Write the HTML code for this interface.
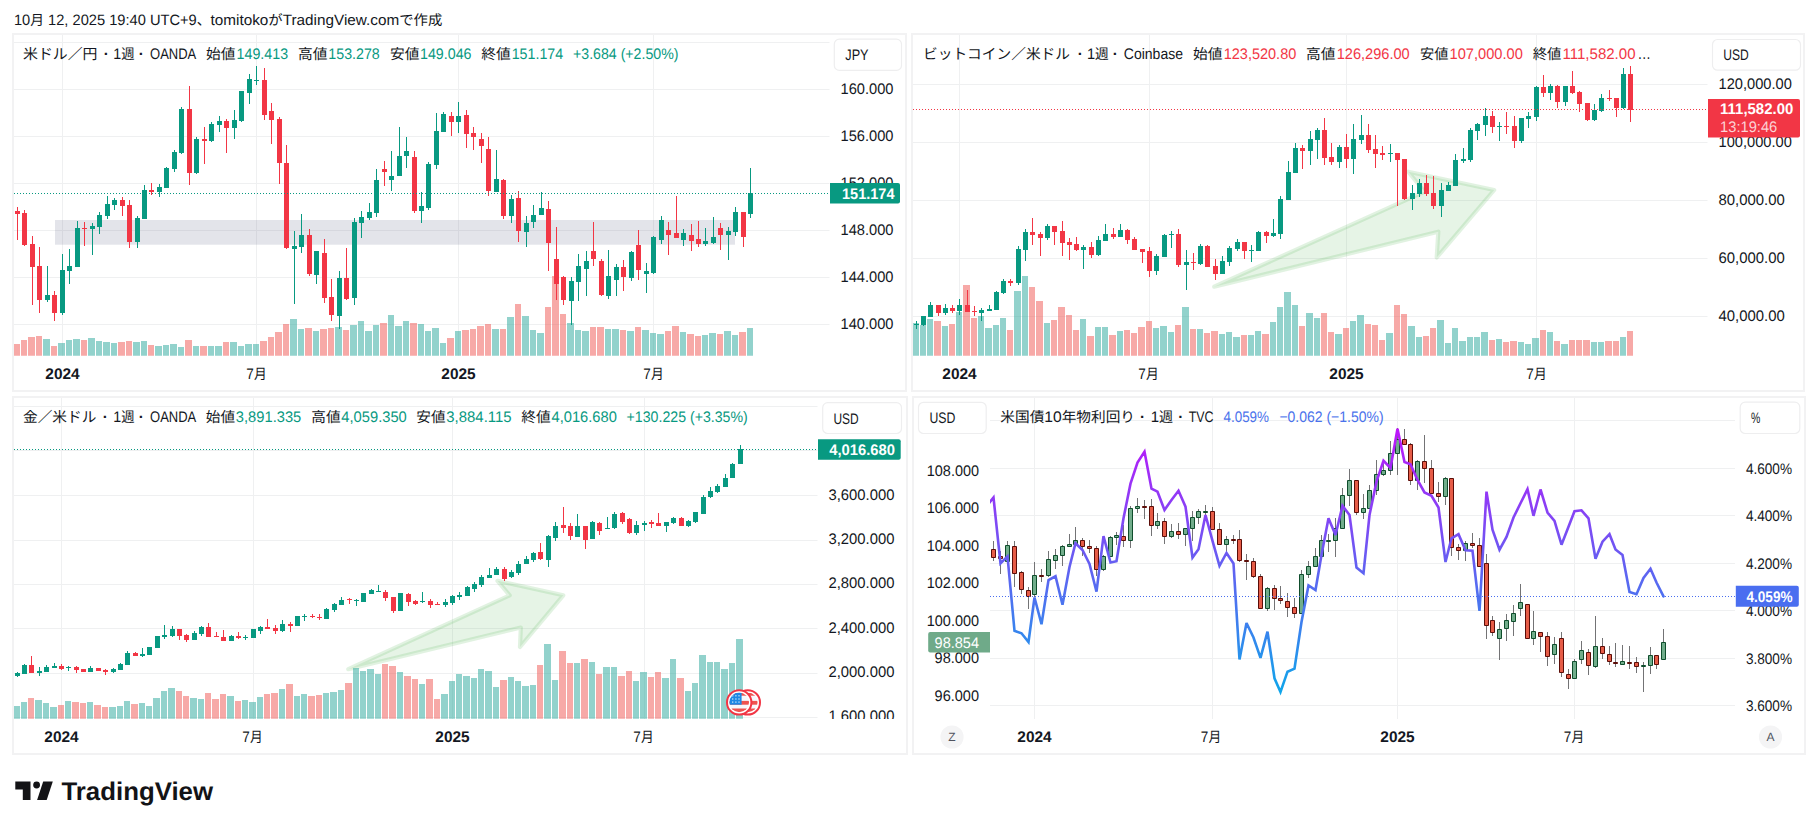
<!DOCTYPE html>
<html lang="ja"><head><meta charset="utf-8"><title>TradingView chart snapshot</title>
<style>html,body{margin:0;padding:0;background:#fff}body{width:1818px;height:829px;overflow:hidden}svg{display:block}text{font-family:"Liberation Sans", "Noto Sans CJK JP", sans-serif;white-space:pre;text-rendering:geometricPrecision}</style>
</head><body>
<svg width="1818" height="829" viewBox="0 0 1818 829">
<defs>
<linearGradient id="lg" gradientUnits="userSpaceOnUse" x1="0" y1="428" x2="0" y2="692"><stop offset="0" stop-color="#be14fa"/><stop offset="1" stop-color="#10a5ea"/></linearGradient>
<clipPath id="c1"><rect x="14" y="35" width="815.5" height="321"/></clipPath>
<clipPath id="c2"><rect x="913" y="35" width="794.5" height="321"/></clipPath>
<clipPath id="c3"><rect x="14" y="398" width="803.5" height="321"/></clipPath>
<clipPath id="c4"><rect x="990" y="398" width="745" height="321"/></clipPath>
<clipPath id="c3a"><rect x="817.5" y="398" width="88" height="321"/></clipPath>
<clipPath id="cf"><circle cx="739.2" cy="702.4" r="9.8"/></clipPath>
<clipPath id="cf2"><circle cx="747.8" cy="702.4" r="9.8"/></clipPath>
</defs>
<rect width="1818" height="829" fill="#fff"/>
<text x="13.9" y="25.3" font-size="15" fill="#131722" textLength="196.6" lengthAdjust="spacingAndGlyphs">10<tspan font-size="14.1">月</tspan> 12, 2025 19:40 UTC+9<tspan font-size="14.1">、</tspan></text>
<text x="210.5" y="25.3" font-size="15" fill="#131722" textLength="231.8" lengthAdjust="spacingAndGlyphs">tomitoko<tspan font-size="14.1">が</tspan>TradingView.com<tspan font-size="14.1">で作成</tspan></text>
<rect x="13" y="34" width="893" height="357" fill="#fff" stroke="#f2f2f3" stroke-width="2"/>
<path d="M14 42.5H829.5M14 89.5H829.5M14 136.5H829.5M14 183.5H829.5M14 230.5H829.5M14 277.5H829.5M14 324.5H829.5" stroke="#eff0f1" stroke-width="1" fill="none"/>
<path d="M62.5 35V356M256.5 35V356M458.5 35V356M653.5 35V356" stroke="#eff0f1" stroke-width="1" fill="none"/>
<g clip-path="url(#c1)">
<rect x="55" y="220" width="680" height="24.7" fill="rgb(100,105,140)" fill-opacity="0.18"/>
<path d="M43 339H50V355.8H43ZM58 343H65V355.8H58ZM66 340H72V355.8H66ZM73 339H80V355.8H73ZM88 338H95V355.8H88ZM96 341H102V355.8H96ZM103 342H110V355.8H103ZM111 343H117V355.8H111ZM133 342H140V355.8H133ZM141 341H147V355.8H141ZM155 346H162V355.8H155ZM163 345H169V355.8H163ZM170 344H177V355.8H170ZM178 347H184V355.8H178ZM193 346H199V355.8H193ZM208 346H214V355.8H208ZM215 346H222V355.8H215ZM230 342H237V355.8H230ZM238 346H244V355.8H238ZM245 344H252V355.8H245ZM253 344H259V355.8H253ZM290 319H297V355.8H290ZM298 329H304V355.8H298ZM313 331H319V355.8H313ZM335 327H342V355.8H335ZM350 325H357V355.8H350ZM358 321H364V355.8H358ZM365 331H372V355.8H365ZM373 325H379V355.8H373ZM388 315H394V355.8H388ZM395 326H402V355.8H395ZM403 321H409V355.8H403ZM418 324H424V355.8H418ZM425 331H431V355.8H425ZM432 328H439V355.8H432ZM440 343H446V355.8H440ZM455 331H461V355.8H455ZM492 329H499V355.8H492ZM507 317H514V355.8H507ZM522 316H529V355.8H522ZM530 330H536V355.8H530ZM537 333H544V355.8H537ZM567 323H574V355.8H567ZM575 330H581V355.8H575ZM582 331H589V355.8H582ZM605 329H611V355.8H605ZM612 329H619V355.8H612ZM627 331H634V355.8H627ZM642 330H649V355.8H642ZM650 333H656V355.8H650ZM657 334H664V355.8H657ZM680 332H686V355.8H680ZM702 335H708V355.8H702ZM709 333H716V355.8H709ZM724 331H731V355.8H724ZM732 335H738V355.8H732ZM747 328H753V355.8H747Z" fill="#26a69a" fill-opacity="0.5"/>
<path d="M13 344H20V355.8H13ZM21 340H27V355.8H21ZM28 337H35V355.8H28ZM36 336H42V355.8H36ZM51 346H57V355.8H51ZM81 340H87V355.8H81ZM118 342H125V355.8H118ZM126 341H132V355.8H126ZM148 345H154V355.8H148ZM185 340H192V355.8H185ZM200 346H207V355.8H200ZM223 342H229V355.8H223ZM260 341H267V355.8H260ZM268 337H274V355.8H268ZM275 332H282V355.8H275ZM283 324H289V355.8H283ZM305 328H312V355.8H305ZM320 329H327V355.8H320ZM328 328H334V355.8H328ZM343 330H349V355.8H343ZM380 323H387V355.8H380ZM410 323H417V355.8H410ZM447 338H454V355.8H447ZM462 330H469V355.8H462ZM470 329H476V355.8H470ZM477 326H484V355.8H477ZM485 324H491V355.8H485ZM500 329H506V355.8H500ZM515 304H521V355.8H515ZM545 307H551V355.8H545ZM552 276H559V355.8H552ZM560 314H566V355.8H560ZM590 327H596V355.8H590ZM597 327H604V355.8H597ZM620 330H626V355.8H620ZM635 327H641V355.8H635ZM665 331H671V355.8H665ZM672 326H679V355.8H672ZM687 334H694V355.8H687ZM695 336H701V355.8H695ZM717 334H723V355.8H717ZM739 332H746V355.8H739Z" fill="#ef5350" fill-opacity="0.5"/>
<path d="M47.5 266.0V302.0M62.5 254.0V315.0M69.5 249.0V284.0M77.5 221.0V267.0M92.5 223.0V255.0M99.5 212.0V234.0M107.5 196.0V219.0M114.5 198.0V210.0M137.5 216.0V248.0M144.5 185.0V219.0M159.5 184.0V197.0M166.5 167.0V188.0M174.5 150.0V172.0M181.5 107.0V154.0M196.5 137.0V174.0M211.5 122.0V142.0M219.5 116.0V132.0M234.5 110.0V139.0M241.5 91.0V122.0M249.5 74.0V104.0M256.5 66.0V85.0M294.5 231.0V304.0M301.5 214.0V253.0M316.5 251.0V284.0M339.5 271.0V329.0M354.5 218.0V305.0M361.5 211.0V238.0M369.5 203.0V220.0M376.5 169.0V217.0M391.5 151.0V191.0M399.5 127.0V176.0M406.5 137.0V168.0M421.5 192.0V223.0M428.5 162.0V210.0M436.5 113.0V169.0M443.5 112.0V132.0M458.5 102.0V133.0M496.5 150.0V192.0M511.5 195.0V223.0M526.5 216.0V247.0M533.5 205.0V228.0M541.5 192.0V215.0M571.5 277.0V325.0M578.5 254.0V301.0M586.5 251.0V296.0M608.5 250.0V299.0M616.5 264.0V296.0M631.5 251.0V281.0M646.5 263.0V293.0M653.5 236.0V274.0M661.5 216.0V244.0M683.5 229.0V246.0M705.5 228.0V246.0M713.5 217.0V244.0M728.5 227.0V260.0M735.5 207.0V236.0M750.5 168.0V218.0" stroke="#089981" stroke-width="1" fill="none"/>
<path d="M45.0 295.0h5V300.0h-5ZM60.0 270.0h5V313.0h-5ZM67.0 266.0h5V271.0h-5ZM75.0 228.0h5V267.0h-5ZM90.0 226.0h5V229.0h-5ZM97.0 215.0h5V227.0h-5ZM105.0 204.0h5V216.0h-5ZM112.0 200.0h5V205.0h-5ZM135.0 218.0h5V242.0h-5ZM142.0 190.0h5V219.0h-5ZM157.0 187.0h5V192.0h-5ZM164.0 168.0h5V188.0h-5ZM172.0 152.0h5V169.0h-5ZM179.0 109.0h5V153.0h-5ZM194.0 139.0h5V173.0h-5ZM209.0 124.0h5V141.0h-5ZM217.0 121.0h5V125.0h-5ZM232.0 120.0h5V128.0h-5ZM239.0 91.0h5V121.0h-5ZM247.0 79.0h5V93.0h-5ZM254.0 80.0h5V81.0h-5ZM292.0 246.0h5V249.0h-5ZM299.0 235.0h5V247.0h-5ZM314.0 251.0h5V275.0h-5ZM337.0 278.0h5V316.0h-5ZM352.0 222.0h5V298.0h-5ZM359.0 217.0h5V223.0h-5ZM367.0 212.0h5V218.0h-5ZM374.0 180.0h5V213.0h-5ZM389.0 176.0h5V180.0h-5ZM397.0 156.0h5V176.0h-5ZM404.0 151.0h5V156.0h-5ZM419.0 206.0h5V211.0h-5ZM426.0 164.0h5V208.0h-5ZM434.0 131.0h5V165.0h-5ZM441.0 114.0h5V132.0h-5ZM456.0 116.0h5V122.0h-5ZM494.0 179.0h5V192.0h-5ZM509.0 199.0h5V216.0h-5ZM524.0 223.0h5V232.0h-5ZM531.0 215.0h5V222.0h-5ZM539.0 208.0h5V215.0h-5ZM569.0 281.0h5V301.0h-5ZM576.0 266.0h5V282.0h-5ZM584.0 261.0h5V269.0h-5ZM606.0 276.0h5V296.0h-5ZM614.0 267.0h5V280.0h-5ZM629.0 252.0h5V278.0h-5ZM644.0 271.0h5V274.0h-5ZM651.0 237.0h5V273.0h-5ZM659.0 220.0h5V240.0h-5ZM681.0 233.0h5V240.0h-5ZM703.0 241.0h5V244.0h-5ZM711.0 237.0h5V243.0h-5ZM726.0 231.0h5V235.0h-5ZM733.0 212.0h5V232.0h-5ZM748.0 193.0h5V214.0h-5Z" fill="#089981"/>
<path d="M17.5 207.0V240.0M24.5 210.0V246.0M32.5 236.0V305.0M39.5 247.0V313.0M54.5 291.0V321.0M84.5 222.0V246.0M122.5 197.0V216.0M129.5 200.0V248.0M151.5 183.0V195.0M189.5 86.0V185.0M204.5 127.0V164.0M226.5 119.0V153.0M264.5 68.0V120.0M271.5 103.0V144.0M279.5 117.0V184.0M286.5 145.0V249.0M309.5 229.0V276.0M324.5 239.0V303.0M331.5 279.0V321.0M346.5 248.0V300.0M384.5 161.0V186.0M414.5 151.0V213.0M451.5 112.0V136.0M466.5 110.0V148.0M473.5 127.0V150.0M481.5 133.0V163.0M488.5 137.0V196.0M503.5 179.0V219.0M518.5 191.0V242.0M548.5 201.0V271.0M556.5 227.0V300.0M563.5 276.0V305.0M593.5 222.0V266.0M601.5 259.0V296.0M623.5 260.0V291.0M638.5 230.0V280.0M668.5 222.0V255.0M676.5 196.0V238.0M691.5 224.0V251.0M698.5 221.0V247.0M720.5 223.0V250.0M743.5 212.0V247.0" stroke="#f23645" stroke-width="1" fill="none"/>
<path d="M15.0 211.0h5V214.0h-5ZM22.0 213.0h5V245.0h-5ZM30.0 244.0h5V267.0h-5ZM37.0 266.0h5V300.0h-5ZM52.0 295.0h5V313.0h-5ZM82.0 228.0h5V229.0h-5ZM120.0 200.0h5V206.0h-5ZM127.0 205.0h5V242.0h-5ZM149.0 190.0h5V192.0h-5ZM187.0 109.0h5V173.0h-5ZM202.0 139.0h5V141.0h-5ZM224.0 121.0h5V128.0h-5ZM262.0 80.0h5V115.0h-5ZM269.0 111.0h5V120.0h-5ZM277.0 119.0h5V163.0h-5ZM284.0 163.0h5V248.0h-5ZM307.0 235.0h5V274.0h-5ZM322.0 253.0h5V298.0h-5ZM329.0 297.0h5V315.0h-5ZM344.0 278.0h5V299.0h-5ZM382.0 169.0h5V172.0h-5ZM412.0 157.0h5V211.0h-5ZM449.0 116.0h5V122.0h-5ZM464.0 115.0h5V134.0h-5ZM471.0 133.0h5V137.0h-5ZM479.0 139.0h5V146.0h-5ZM486.0 149.0h5V191.0h-5ZM501.0 180.0h5V216.0h-5ZM516.0 198.0h5V231.0h-5ZM546.0 209.0h5V243.0h-5ZM554.0 259.0h5V284.0h-5ZM561.0 277.0h5V300.0h-5ZM591.0 251.0h5V259.0h-5ZM599.0 261.0h5V295.0h-5ZM621.0 267.0h5V277.0h-5ZM636.0 245.0h5V270.0h-5ZM666.0 230.0h5V235.0h-5ZM674.0 233.0h5V238.0h-5ZM689.0 235.0h5V241.0h-5ZM696.0 239.0h5V244.0h-5ZM718.0 228.0h5V235.0h-5ZM741.0 212.0h5V237.0h-5Z" fill="#f23645"/>
</g>
<path d="M14 193.5H829.5" stroke="#089981" stroke-width="1" stroke-dasharray="1 2" fill="none"/>
<text x="23" y="59.1" font-size="14.4" fill="#131722" textLength="74.5" lengthAdjust="spacingAndGlyphs">米ドル／円</text>
<text x="103.7" y="59.1" font-size="15.3" fill="#131722" font-weight="bold">·</text>
<text x="113.3" y="59.1" font-size="15.3" fill="#131722" textLength="21.3" lengthAdjust="spacingAndGlyphs">1<tspan font-size="14.4">週</tspan></text>
<text x="138.7" y="59.1" font-size="15.3" fill="#131722" font-weight="bold">·</text>
<text x="150" y="59.1" font-size="15.3" fill="#131722" textLength="46.3" lengthAdjust="spacingAndGlyphs">OANDA</text>
<text x="206" y="59.1" font-size="14.4" fill="#131722" textLength="29.5" lengthAdjust="spacingAndGlyphs">始値</text>
<text x="236.6" y="59.1" font-size="15.3" fill="#089981" textLength="51.5" lengthAdjust="spacingAndGlyphs">149.413</text>
<text x="298" y="59.1" font-size="14.4" fill="#131722" textLength="29.5" lengthAdjust="spacingAndGlyphs">高値</text>
<text x="328.3" y="59.1" font-size="15.3" fill="#089981" textLength="51.5" lengthAdjust="spacingAndGlyphs">153.278</text>
<text x="390" y="59.1" font-size="14.4" fill="#131722" textLength="29.5" lengthAdjust="spacingAndGlyphs">安値</text>
<text x="420" y="59.1" font-size="15.3" fill="#089981" textLength="51.5" lengthAdjust="spacingAndGlyphs">149.046</text>
<text x="481.3" y="59.1" font-size="14.4" fill="#131722" textLength="29.5" lengthAdjust="spacingAndGlyphs">終値</text>
<text x="511.7" y="59.1" font-size="15.3" fill="#089981" textLength="51.5" lengthAdjust="spacingAndGlyphs">151.174</text>
<text x="573" y="59.1" font-size="15.3" fill="#089981" textLength="105.5" lengthAdjust="spacingAndGlyphs">+3.684 (+2.50%)</text>
<text x="840.5" y="94.4" font-size="15.3" fill="#131722" textLength="53" lengthAdjust="spacingAndGlyphs">160.000</text>
<text x="840.5" y="141.4" font-size="15.3" fill="#131722" textLength="53" lengthAdjust="spacingAndGlyphs">156.000</text>
<text x="840.5" y="188.4" font-size="15.3" fill="#131722" textLength="53" lengthAdjust="spacingAndGlyphs">152.000</text>
<text x="840.5" y="235.4" font-size="15.3" fill="#131722" textLength="53" lengthAdjust="spacingAndGlyphs">148.000</text>
<text x="840.5" y="282.4" font-size="15.3" fill="#131722" textLength="53" lengthAdjust="spacingAndGlyphs">144.000</text>
<text x="840.5" y="329.4" font-size="15.3" fill="#131722" textLength="53" lengthAdjust="spacingAndGlyphs">140.000</text>
<path d="M830 183h68a2 2 0 0 1 2 2v16.5a2 2 0 0 1-2 2h-68z" fill="#089981"/>
<text x="842" y="199" font-size="15.3" fill="#fff" font-weight="bold" textLength="52.5" lengthAdjust="spacingAndGlyphs">151.174</text>
<rect x="834.3" y="39.2" width="67.20000000000005" height="31.200000000000003" rx="5" fill="#fff" stroke="#eeeeef" stroke-width="1.2"/>
<text x="845.3" y="60.2" font-size="15.3" fill="#131722" textLength="23.3" lengthAdjust="spacingAndGlyphs">JPY</text>
<text x="62.5" y="379" font-size="15.3" fill="#131722" font-weight="bold" text-anchor="middle" textLength="34.3" lengthAdjust="spacingAndGlyphs">2024</text>
<text x="256.5" y="379" font-size="15.3" fill="#131722" text-anchor="middle" textLength="20.3" lengthAdjust="spacingAndGlyphs">7<tspan font-size="14.4">月</tspan></text>
<text x="458.5" y="379" font-size="15.3" fill="#131722" font-weight="bold" text-anchor="middle" textLength="34.3" lengthAdjust="spacingAndGlyphs">2025</text>
<text x="653.5" y="379" font-size="15.3" fill="#131722" text-anchor="middle" textLength="20.3" lengthAdjust="spacingAndGlyphs">7<tspan font-size="14.4">月</tspan></text>
<rect x="912" y="34" width="892" height="357" fill="#fff" stroke="#f2f2f3" stroke-width="2"/>
<path d="M913 84.5H1707.5M913 142.5H1707.5M913 200.5H1707.5M913 258.5H1707.5M913 316.5H1707.5" stroke="#eff0f1" stroke-width="1" fill="none"/>
<path d="M959.5 35V356M1149.5 35V356M1346.5 35V356M1536.5 35V356" stroke="#eff0f1" stroke-width="1" fill="none"/>
<g clip-path="url(#c2)">
<path d="M1214.2 286.7L1424.5 191.7L1408.3 171.7L1494.2 190L1436.7 257.5L1438.3 231.7Z" fill="rgb(76,175,80)" fill-opacity="0.14" stroke="rgb(76,175,80)" stroke-opacity="0.17" stroke-width="4.2" stroke-linejoin="round"/>
<path d="M912 323H919V355.8H912ZM920 325H926V355.8H920ZM927 319H933V355.8H927ZM942 326H948V355.8H942ZM956 312H962V355.8H956ZM978 316H984V355.8H978ZM985 328H992V355.8H985ZM993 325H999V355.8H993ZM1000 318H1006V355.8H1000ZM1014 291H1021V355.8H1014ZM1022 276H1028V355.8H1022ZM1044 323H1050V355.8H1044ZM1080 319H1086V355.8H1080ZM1095 327H1101V355.8H1095ZM1102 327H1108V355.8H1102ZM1117 331H1123V355.8H1117ZM1153 328H1159V355.8H1153ZM1160 326H1167V355.8H1160ZM1168 332H1174V355.8H1168ZM1182 307H1189V355.8H1182ZM1197 329H1203V355.8H1197ZM1219 334H1225V355.8H1219ZM1226 332H1232V355.8H1226ZM1233 337H1240V355.8H1233ZM1248 335H1254V355.8H1248ZM1255 331H1261V355.8H1255ZM1270 322H1276V355.8H1270ZM1277 307H1283V355.8H1277ZM1284 292H1291V355.8H1284ZM1292 305H1298V355.8H1292ZM1306 313H1313V355.8H1306ZM1314 318H1320V355.8H1314ZM1335 334H1342V355.8H1335ZM1350 321H1356V355.8H1350ZM1357 315H1364V355.8H1357ZM1386 333H1393V355.8H1386ZM1408 326H1415V355.8H1408ZM1416 337H1422V355.8H1416ZM1437 320H1444V355.8H1437ZM1445 343H1451V355.8H1445ZM1452 328H1458V355.8H1452ZM1459 341H1466V355.8H1459ZM1467 337H1473V355.8H1467ZM1474 337H1480V355.8H1474ZM1481 332H1488V355.8H1481ZM1496 339H1502V355.8H1496ZM1518 342H1524V355.8H1518ZM1525 344H1531V355.8H1525ZM1532 338H1539V355.8H1532ZM1547 332H1553V355.8H1547ZM1561 344H1568V355.8H1561ZM1591 342H1597V355.8H1591ZM1598 342H1604V355.8H1598ZM1620 337H1626V355.8H1620Z" fill="#26a69a" fill-opacity="0.5"/>
<path d="M934 321H941V355.8H934ZM949 324H955V355.8H949ZM963 285H970V355.8H963ZM971 318H977V355.8H971ZM1007 330H1013V355.8H1007ZM1029 287H1035V355.8H1029ZM1036 301H1043V355.8H1036ZM1051 320H1057V355.8H1051ZM1058 307H1065V355.8H1058ZM1066 315H1072V355.8H1066ZM1073 330H1079V355.8H1073ZM1087 336H1094V355.8H1087ZM1109 335H1116V355.8H1109ZM1124 330H1130V355.8H1124ZM1131 333H1137V355.8H1131ZM1138 327H1145V355.8H1138ZM1146 321H1152V355.8H1146ZM1175 325H1181V355.8H1175ZM1190 329H1196V355.8H1190ZM1204 333H1210V355.8H1204ZM1211 331H1218V355.8H1211ZM1241 335H1247V355.8H1241ZM1262 334H1269V355.8H1262ZM1299 326H1305V355.8H1299ZM1321 313H1327V355.8H1321ZM1328 332H1334V355.8H1328ZM1343 328H1349V355.8H1343ZM1365 324H1371V355.8H1365ZM1372 325H1378V355.8H1372ZM1379 340H1385V355.8H1379ZM1394 305H1400V355.8H1394ZM1401 314H1407V355.8H1401ZM1423 336H1429V355.8H1423ZM1430 328H1436V355.8H1430ZM1489 340H1495V355.8H1489ZM1503 342H1509V355.8H1503ZM1510 341H1517V355.8H1510ZM1540 330H1546V355.8H1540ZM1554 341H1560V355.8H1554ZM1569 340H1575V355.8H1569ZM1576 340H1582V355.8H1576ZM1583 340H1590V355.8H1583ZM1605 341H1612V355.8H1605ZM1613 341H1619V355.8H1613ZM1627 331H1633V355.8H1627Z" fill="#ef5350" fill-opacity="0.5"/>
<path d="M916.5 321.0V329.0M923.5 316.0V326.0M930.5 302.0V317.0M945.5 304.0V315.0M959.5 299.0V315.0M981.5 308.0V321.0M989.5 305.0V311.0M996.5 291.0V310.0M1003.5 279.0V294.0M1018.5 246.0V285.0M1025.5 229.0V261.0M1047.5 224.0V240.0M1083.5 245.0V269.0M1098.5 236.0V256.0M1105.5 224.0V241.0M1120.5 224.0V237.0M1156.5 254.0V275.0M1164.5 234.0V257.0M1171.5 231.0V248.0M1186.5 250.0V290.0M1200.5 244.0V265.0M1222.5 256.0V274.0M1229.5 246.0V266.0M1237.5 239.0V251.0M1251.5 245.0V262.0M1258.5 231.0V251.0M1273.5 219.0V237.0M1280.5 196.0V239.0M1288.5 161.0V200.0M1295.5 143.0V173.0M1310.5 131.0V165.0M1317.5 128.0V159.0M1339.5 145.0V168.0M1353.5 124.0V174.0M1361.5 115.0V144.0M1390.5 144.0V162.0M1412.5 185.0V210.0M1419.5 179.0V197.0M1441.5 183.0V217.0M1448.5 182.0V191.0M1455.5 154.0V186.0M1463.5 148.0V163.0M1470.5 128.0V162.0M1477.5 123.0V140.0M1485.5 108.0V136.0M1499.5 122.0V141.0M1521.5 118.0V143.0M1528.5 112.0V128.0M1536.5 86.0V121.0M1550.5 84.0V100.0M1565.5 86.0V106.0M1594.5 104.0V121.0M1601.5 94.0V112.0M1623.5 68.0V109.0" stroke="#089981" stroke-width="1" fill="none"/>
<path d="M914.0 324.0h5V325.0h-5ZM921.0 316.0h5V325.0h-5ZM928.0 305.0h5V317.0h-5ZM943.0 308.0h5V313.0h-5ZM957.0 305.0h5V311.0h-5ZM979.0 310.0h5V313.0h-5ZM987.0 309.0h5V311.0h-5ZM994.0 292.0h5V310.0h-5ZM1001.0 281.0h5V293.0h-5ZM1016.0 249.0h5V283.0h-5ZM1023.0 232.0h5V250.0h-5ZM1045.0 226.0h5V238.0h-5ZM1081.0 247.0h5V250.0h-5ZM1096.0 240.0h5V255.0h-5ZM1103.0 234.0h5V241.0h-5ZM1118.0 230.0h5V237.0h-5ZM1154.0 256.0h5V271.0h-5ZM1162.0 235.0h5V257.0h-5ZM1169.0 234.0h5V235.0h-5ZM1184.0 262.0h5V265.0h-5ZM1198.0 246.0h5V264.0h-5ZM1220.0 261.0h5V274.0h-5ZM1227.0 248.0h5V262.0h-5ZM1235.0 242.0h5V249.0h-5ZM1249.0 250.0h5V251.0h-5ZM1256.0 232.0h5V251.0h-5ZM1271.0 233.0h5V236.0h-5ZM1278.0 199.0h5V234.0h-5ZM1286.0 172.0h5V200.0h-5ZM1293.0 148.0h5V173.0h-5ZM1308.0 139.0h5V151.0h-5ZM1315.0 130.0h5V140.0h-5ZM1337.0 147.0h5V162.0h-5ZM1351.0 139.0h5V159.0h-5ZM1359.0 135.0h5V140.0h-5ZM1388.0 153.0h5V154.0h-5ZM1410.0 193.0h5V199.0h-5ZM1417.0 183.0h5V194.0h-5ZM1439.0 190.0h5V206.0h-5ZM1446.0 185.0h5V191.0h-5ZM1453.0 160.0h5V186.0h-5ZM1461.0 159.0h5V161.0h-5ZM1468.0 130.0h5V160.0h-5ZM1475.0 124.0h5V131.0h-5ZM1483.0 116.0h5V125.0h-5ZM1497.0 126.0h5V127.0h-5ZM1519.0 118.0h5V141.0h-5ZM1526.0 116.0h5V119.0h-5ZM1534.0 87.0h5V117.0h-5ZM1548.0 86.0h5V93.0h-5ZM1563.0 86.0h5V102.0h-5ZM1592.0 110.0h5V120.0h-5ZM1599.0 98.0h5V111.0h-5ZM1621.0 74.0h5V108.0h-5Z" fill="#089981"/>
<path d="M938.5 305.0V316.0M952.5 305.0V313.0M967.5 290.0V312.0M974.5 306.0V316.0M1010.5 279.0V286.0M1032.5 218.0V245.0M1040.5 232.0V256.0M1054.5 226.0V245.0M1062.5 221.0V256.0M1069.5 238.0V260.0M1076.5 237.0V251.0M1091.5 242.0V258.0M1113.5 228.0V239.0M1127.5 229.0V244.0M1134.5 237.0V250.0M1142.5 249.0V263.0M1149.5 247.0V277.0M1178.5 229.0V267.0M1193.5 253.0V270.0M1207.5 245.0V267.0M1215.5 259.0V280.0M1244.5 242.0V259.0M1266.5 231.0V243.0M1302.5 145.0V169.0M1324.5 118.0V165.0M1331.5 143.0V165.0M1346.5 134.0V168.0M1368.5 124.0V153.0M1375.5 135.0V168.0M1382.5 146.0V160.0M1397.5 153.0V206.0M1404.5 159.0V200.0M1426.5 175.0V196.0M1433.5 176.0V209.0M1492.5 111.0V133.0M1506.5 112.0V134.0M1514.5 116.0V148.0M1543.5 75.0V97.0M1557.5 85.0V108.0M1572.5 71.0V94.0M1579.5 91.0V112.0M1587.5 103.0V121.0M1609.5 90.0V101.0M1616.5 98.0V117.0M1630.5 66.0V122.0" stroke="#f23645" stroke-width="1" fill="none"/>
<path d="M936.0 305.0h5V313.0h-5ZM950.0 308.0h5V311.0h-5ZM965.0 305.0h5V312.0h-5ZM972.0 311.0h5V312.0h-5ZM1008.0 281.0h5V283.0h-5ZM1030.0 232.0h5V235.0h-5ZM1038.0 234.0h5V238.0h-5ZM1052.0 226.0h5V232.0h-5ZM1060.0 231.0h5V243.0h-5ZM1067.0 242.0h5V245.0h-5ZM1074.0 244.0h5V250.0h-5ZM1089.0 247.0h5V255.0h-5ZM1111.0 234.0h5V237.0h-5ZM1125.0 230.0h5V240.0h-5ZM1132.0 239.0h5V250.0h-5ZM1140.0 249.0h5V252.0h-5ZM1147.0 251.0h5V271.0h-5ZM1176.0 234.0h5V265.0h-5ZM1191.0 262.0h5V263.0h-5ZM1205.0 246.0h5V267.0h-5ZM1213.0 266.0h5V274.0h-5ZM1242.0 242.0h5V251.0h-5ZM1264.0 232.0h5V236.0h-5ZM1300.0 148.0h5V151.0h-5ZM1322.0 130.0h5V158.0h-5ZM1329.0 157.0h5V162.0h-5ZM1344.0 147.0h5V159.0h-5ZM1366.0 135.0h5V150.0h-5ZM1373.0 149.0h5V154.0h-5ZM1380.0 153.0h5V155.0h-5ZM1395.0 153.0h5V160.0h-5ZM1402.0 159.0h5V199.0h-5ZM1424.0 183.0h5V194.0h-5ZM1431.0 193.0h5V206.0h-5ZM1490.0 116.0h5V127.0h-5ZM1504.0 126.0h5V127.0h-5ZM1512.0 126.0h5V141.0h-5ZM1541.0 87.0h5V93.0h-5ZM1555.0 86.0h5V102.0h-5ZM1570.0 86.0h5V93.0h-5ZM1577.0 92.0h5V104.0h-5ZM1585.0 103.0h5V120.0h-5ZM1607.0 98.0h5V99.0h-5ZM1614.0 98.0h5V108.0h-5ZM1628.0 74.0h5V110.0h-5Z" fill="#f23645"/>
</g>
<path d="M913 109.5H1707.5" stroke="#f23645" stroke-width="1" stroke-dasharray="1 2" fill="none"/>
<text x="923" y="59.1" font-size="14.4" fill="#131722" textLength="147" lengthAdjust="spacingAndGlyphs">ビットコイン／米ドル</text>
<text x="1077.7" y="59.1" font-size="15.3" fill="#131722" font-weight="bold">·</text>
<text x="1087" y="59.1" font-size="15.3" fill="#131722" textLength="21.8" lengthAdjust="spacingAndGlyphs">1<tspan font-size="14.4">週</tspan></text>
<text x="1112.7" y="59.1" font-size="15.3" fill="#131722" font-weight="bold">·</text>
<text x="1123.8" y="59.1" font-size="15.3" fill="#131722" textLength="59.2" lengthAdjust="spacingAndGlyphs">Coinbase</text>
<text x="1193" y="59.1" font-size="14.4" fill="#131722" textLength="29.5" lengthAdjust="spacingAndGlyphs">始値</text>
<text x="1223.7" y="59.1" font-size="15.3" fill="#f23645" textLength="72.6" lengthAdjust="spacingAndGlyphs">123,520.80</text>
<text x="1306" y="59.1" font-size="14.4" fill="#131722" textLength="29.5" lengthAdjust="spacingAndGlyphs">高値</text>
<text x="1336.7" y="59.1" font-size="15.3" fill="#f23645" textLength="73" lengthAdjust="spacingAndGlyphs">126,296.00</text>
<text x="1420" y="59.1" font-size="14.4" fill="#131722" textLength="28.5" lengthAdjust="spacingAndGlyphs">安値</text>
<text x="1449.5" y="59.1" font-size="15.3" fill="#f23645" textLength="73.3" lengthAdjust="spacingAndGlyphs">107,000.00</text>
<text x="1532.7" y="59.1" font-size="14.4" fill="#131722" textLength="28.7" lengthAdjust="spacingAndGlyphs">終値</text>
<text x="1562.5" y="59.1" font-size="15.3" fill="#f23645" textLength="73" lengthAdjust="spacingAndGlyphs">111,582.00</text>
<text x="1637.4" y="59.1" font-size="15.3" fill="#131722" textLength="13.4" lengthAdjust="spacingAndGlyphs">…</text>
<text x="1718.5" y="89.4" font-size="15.3" fill="#131722" textLength="73.3" lengthAdjust="spacingAndGlyphs">120,000.00</text>
<text x="1718.5" y="147.4" font-size="15.3" fill="#131722" textLength="73.3" lengthAdjust="spacingAndGlyphs">100,000.00</text>
<text x="1718.5" y="205.4" font-size="15.3" fill="#131722" textLength="66.3" lengthAdjust="spacingAndGlyphs">80,000.00</text>
<text x="1718.5" y="263.4" font-size="15.3" fill="#131722" textLength="66.3" lengthAdjust="spacingAndGlyphs">60,000.00</text>
<text x="1718.5" y="321.4" font-size="15.3" fill="#131722" textLength="66.3" lengthAdjust="spacingAndGlyphs">40,000.00</text>
<path d="M1708 99h90a2 2 0 0 1 2 2v34.5a2 2 0 0 1-2 2h-90z" fill="#f23645"/>
<text x="1720.1" y="113.8" font-size="15.3" fill="#fff" font-weight="bold" textLength="73.2" lengthAdjust="spacingAndGlyphs">111,582.00</text>
<text x="1720.1" y="132.1" font-size="15.3" fill="#fff" textLength="57.2" lengthAdjust="spacingAndGlyphs" fill-opacity="0.78">13:19:46</text>
<rect x="1712.5" y="39.5" width="88" height="30.700000000000003" rx="5" fill="#fff" stroke="#eeeeef" stroke-width="1.2"/>
<text x="1723.3" y="60.25" font-size="15.3" fill="#131722" textLength="25.5" lengthAdjust="spacingAndGlyphs">USD</text>
<text x="959.5" y="379" font-size="15.3" fill="#131722" font-weight="bold" text-anchor="middle" textLength="34.3" lengthAdjust="spacingAndGlyphs">2024</text>
<text x="1148.5" y="379" font-size="15.3" fill="#131722" text-anchor="middle" textLength="20.3" lengthAdjust="spacingAndGlyphs">7<tspan font-size="14.4">月</tspan></text>
<text x="1346.5" y="379" font-size="15.3" fill="#131722" font-weight="bold" text-anchor="middle" textLength="34.3" lengthAdjust="spacingAndGlyphs">2025</text>
<text x="1536.5" y="379" font-size="15.3" fill="#131722" text-anchor="middle" textLength="20.3" lengthAdjust="spacingAndGlyphs">7<tspan font-size="14.4">月</tspan></text>
<rect x="13" y="397" width="894" height="357" fill="#fff" stroke="#f2f2f3" stroke-width="2"/>
<path d="M14 406.5H817.5M14 450.5H817.5M14 495.5H817.5M14 540.5H817.5M14 584.5H817.5M14 628.5H817.5M14 673.5H817.5M14 717.5H817.5" stroke="#eff0f1" stroke-width="1" fill="none"/>
<path d="M61.5 398V719M253.5 398V719M452.5 398V719M644.5 398V719" stroke="#eff0f1" stroke-width="1" fill="none"/>
<g clip-path="url(#c3)">
<path d="M348.3 669.2L509.7 595.3L497.5 580.8L563.3 595.3L520 647L520.8 627.5Z" fill="rgb(76,175,80)" fill-opacity="0.14" stroke="rgb(76,175,80)" stroke-opacity="0.17" stroke-width="4.2" stroke-linejoin="round"/>
<path d="M13 706H20V718.8H13ZM21 702H27V718.8H21ZM35 700H42V718.8H35ZM43 703H49V718.8H43ZM50 707H57V718.8H50ZM65 701H71V718.8H65ZM87 702H93V718.8H87ZM109 707H116V718.8H109ZM117 706H123V718.8H117ZM124 701H130V718.8H124ZM139 703H145V718.8H139ZM146 706H152V718.8H146ZM153 698H160V718.8H153ZM161 691H167V718.8H161ZM168 688H175V718.8H168ZM190 698H197V718.8H190ZM198 699H204V718.8H198ZM227 696H234V718.8H227ZM242 700H248V718.8H242ZM249 702H256V718.8H249ZM257 697H263V718.8H257ZM279 689H285V718.8H279ZM294 696H300V718.8H294ZM301 694H307V718.8H301ZM323 693H329V718.8H323ZM330 692H337V718.8H330ZM338 690H344V718.8H338ZM353 668H359V718.8H353ZM360 671H366V718.8H360ZM367 669H374V718.8H367ZM375 674H381V718.8H375ZM397 672H403V718.8H397ZM419 684H425V718.8H419ZM441 694H448V718.8H441ZM449 681H455V718.8H449ZM456 674H462V718.8H456ZM463 676H470V718.8H463ZM471 678H477V718.8H471ZM478 669H484V718.8H478ZM485 671H492V718.8H485ZM493 687H499V718.8H493ZM508 677H514V718.8H508ZM515 681H521V718.8H515ZM522 686H529V718.8H522ZM530 685H536V718.8H530ZM544 644H551V718.8H544ZM552 680H558V718.8H552ZM574 663H580V718.8H574ZM589 662H595V718.8H589ZM603 667H610V718.8H603ZM611 667H617V718.8H611ZM633 681H639V718.8H633ZM640 672H647V718.8H640ZM662 678H669V718.8H662ZM670 659H676V718.8H670ZM685 691H691V718.8H685ZM692 683H698V718.8H692ZM699 655H706V718.8H699ZM707 662H713V718.8H707ZM714 662H720V718.8H714ZM721 669H728V718.8H721ZM729 663H735V718.8H729ZM736 639H743V718.8H736Z" fill="#26a69a" fill-opacity="0.5"/>
<path d="M28 698H34V718.8H28ZM58 705H64V718.8H58ZM72 702H79V718.8H72ZM80 703H86V718.8H80ZM94 705H101V718.8H94ZM102 707H108V718.8H102ZM131 704H138V718.8H131ZM176 691H182V718.8H176ZM183 696H189V718.8H183ZM205 693H211V718.8H205ZM212 699H219V718.8H212ZM220 694H226V718.8H220ZM235 701H241V718.8H235ZM264 694H270V718.8H264ZM271 693H278V718.8H271ZM286 684H293V718.8H286ZM308 696H315V718.8H308ZM316 695H322V718.8H316ZM345 683H352V718.8H345ZM382 664H388V718.8H382ZM389 666H396V718.8H389ZM404 676H411V718.8H404ZM412 679H418V718.8H412ZM426 679H433V718.8H426ZM434 699H440V718.8H434ZM500 680H507V718.8H500ZM537 665H543V718.8H537ZM559 651H566V718.8H559ZM567 663H573V718.8H567ZM581 659H588V718.8H581ZM596 674H602V718.8H596ZM618 676H625V718.8H618ZM626 671H632V718.8H626ZM648 677H654V718.8H648ZM655 672H661V718.8H655ZM677 678H684V718.8H677Z" fill="#ef5350" fill-opacity="0.5"/>
<path d="M17.5 672.0V677.0M24.5 664.0V674.0M39.5 667.0V676.0M46.5 665.0V672.0M54.5 663.0V668.0M68.5 666.0V671.0M90.5 666.0V672.0M113.5 668.0V673.0M120.5 663.0V670.0M127.5 651.0V665.0M142.5 648.0V657.0M149.5 647.0V655.0M157.5 636.0V648.0M164.5 625.0V639.0M172.5 626.0V637.0M194.5 631.0V640.0M201.5 626.0V636.0M231.5 635.0V641.0M245.5 635.0V640.0M253.5 629.0V638.0M260.5 626.0V634.0M282.5 620.0V632.0M297.5 616.0V626.0M304.5 614.0V621.0M326.5 608.0V619.0M334.5 603.0V612.0M341.5 597.0V605.0M356.5 599.0V606.0M363.5 593.0V602.0M371.5 589.0V594.0M378.5 585.0V592.0M400.5 593.0V611.0M422.5 592.0V603.0M445.5 599.0V607.0M452.5 595.0V605.0M459.5 592.0V600.0M467.5 586.0V596.0M474.5 582.0V592.0M481.5 575.0V587.0M489.5 568.0V578.0M496.5 567.0V575.0M511.5 570.0V578.0M518.5 561.0V575.0M526.5 556.0V564.0M533.5 552.0V562.0M548.5 535.0V567.0M555.5 522.0V541.0M577.5 514.0V537.0M592.5 521.0V539.0M607.5 517.0V529.0M614.5 512.0V529.0M636.5 521.0V535.0M644.5 521.0V531.0M666.5 522.0V532.0M673.5 517.0V524.0M688.5 520.0V527.0M695.5 512.0V523.0M703.5 495.0V514.0M710.5 487.0V498.0M717.5 484.0V493.0M725.5 474.0V487.0M732.5 463.0V478.0M740.5 445.0V464.0" stroke="#089981" stroke-width="1" fill="none"/>
<path d="M15.0 673.0h5V676.0h-5ZM22.0 665.0h5V674.0h-5ZM37.0 671.0h5V673.0h-5ZM44.0 667.0h5V672.0h-5ZM52.0 666.0h5V668.0h-5ZM66.0 667.0h5V668.0h-5ZM88.0 668.0h5V672.0h-5ZM111.0 669.0h5V672.0h-5ZM118.0 664.0h5V670.0h-5ZM125.0 653.0h5V665.0h-5ZM140.0 654.0h5V656.0h-5ZM147.0 647.0h5V655.0h-5ZM155.0 636.0h5V648.0h-5ZM162.0 635.0h5V637.0h-5ZM170.0 629.0h5V636.0h-5ZM192.0 633.0h5V640.0h-5ZM199.0 627.0h5V634.0h-5ZM229.0 636.0h5V641.0h-5ZM243.0 637.0h5V638.0h-5ZM251.0 629.0h5V638.0h-5ZM258.0 627.0h5V631.0h-5ZM280.0 624.0h5V631.0h-5ZM295.0 616.0h5V626.0h-5ZM302.0 616.0h5V617.0h-5ZM324.0 609.0h5V619.0h-5ZM332.0 604.0h5V610.0h-5ZM339.0 600.0h5V605.0h-5ZM354.0 600.0h5V601.0h-5ZM361.0 593.0h5V602.0h-5ZM369.0 590.0h5V594.0h-5ZM376.0 591.0h5V592.0h-5ZM398.0 593.0h5V611.0h-5ZM420.0 601.0h5V602.0h-5ZM443.0 602.0h5V605.0h-5ZM450.0 596.0h5V603.0h-5ZM457.0 595.0h5V597.0h-5ZM465.0 587.0h5V596.0h-5ZM472.0 584.0h5V589.0h-5ZM479.0 577.0h5V585.0h-5ZM487.0 575.0h5V578.0h-5ZM494.0 569.0h5V575.0h-5ZM509.0 572.0h5V577.0h-5ZM516.0 564.0h5V573.0h-5ZM524.0 559.0h5V564.0h-5ZM531.0 553.0h5V560.0h-5ZM546.0 536.0h5V560.0h-5ZM553.0 526.0h5V538.0h-5ZM575.0 526.0h5V537.0h-5ZM590.0 522.0h5V539.0h-5ZM605.0 528.0h5V529.0h-5ZM612.0 514.0h5V528.0h-5ZM634.0 525.0h5V533.0h-5ZM642.0 523.0h5V525.0h-5ZM664.0 522.0h5V526.0h-5ZM671.0 518.0h5V523.0h-5ZM686.0 521.0h5V526.0h-5ZM693.0 512.0h5V522.0h-5ZM701.0 497.0h5V514.0h-5ZM708.0 491.0h5V497.0h-5ZM715.0 486.0h5V492.0h-5ZM723.0 478.0h5V487.0h-5ZM730.0 464.0h5V478.0h-5ZM738.0 449.0h5V464.0h-5Z" fill="#089981"/>
<path d="M31.5 656.0V673.0M61.5 664.0V670.0M76.5 666.0V673.0M83.5 669.0V672.0M98.5 668.0V671.0M105.5 669.0V675.0M135.5 652.0V656.0M179.5 629.0V640.0M186.5 634.0V642.0M208.5 623.0V637.0M216.5 632.0V637.0M223.5 630.0V641.0M238.5 632.0V639.0M267.5 619.0V629.0M275.5 625.0V634.0M290.5 622.0V632.0M312.5 614.0V618.0M319.5 614.0V620.0M349.5 598.0V604.0M385.5 590.0V601.0M393.5 597.0V613.0M408.5 593.0V606.0M415.5 600.0V605.0M430.5 599.0V608.0M437.5 602.0V605.0M504.5 567.0V581.0M540.5 543.0V560.0M563.5 507.0V533.0M570.5 523.0V540.0M585.5 526.0V549.0M599.5 522.0V535.0M622.5 512.0V524.0M629.5 518.0V534.0M651.5 520.0V528.0M658.5 513.0V526.0M681.5 517.0V526.0" stroke="#f23645" stroke-width="1" fill="none"/>
<path d="M29.0 665.0h5V673.0h-5ZM59.0 666.0h5V669.0h-5ZM74.0 667.0h5V670.0h-5ZM81.0 669.0h5V672.0h-5ZM96.0 668.0h5V671.0h-5ZM103.0 670.0h5V672.0h-5ZM133.0 653.0h5V656.0h-5ZM177.0 629.0h5V636.0h-5ZM184.0 635.0h5V640.0h-5ZM206.0 627.0h5V637.0h-5ZM214.0 636.0h5V637.0h-5ZM221.0 637.0h5V641.0h-5ZM236.0 636.0h5V638.0h-5ZM265.0 627.0h5V629.0h-5ZM273.0 628.0h5V631.0h-5ZM288.0 624.0h5V626.0h-5ZM310.0 616.0h5V617.0h-5ZM317.0 617.0h5V618.0h-5ZM347.0 599.0h5V600.0h-5ZM383.0 592.0h5V598.0h-5ZM391.0 597.0h5V611.0h-5ZM406.0 594.0h5V602.0h-5ZM413.0 601.0h5V604.0h-5ZM428.0 601.0h5V605.0h-5ZM435.0 604.0h5V605.0h-5ZM502.0 569.0h5V579.0h-5ZM538.0 552.0h5V559.0h-5ZM561.0 525.0h5V528.0h-5ZM568.0 526.0h5V536.0h-5ZM583.0 526.0h5V540.0h-5ZM597.0 523.0h5V531.0h-5ZM620.0 513.0h5V522.0h-5ZM627.0 519.0h5V533.0h-5ZM649.0 522.0h5V524.0h-5ZM656.0 523.0h5V526.0h-5ZM679.0 518.0h5V526.0h-5Z" fill="#f23645"/>
</g>
<path d="M14 449.5H817.5" stroke="#089981" stroke-width="1" stroke-dasharray="1 2" fill="none"/>
<text x="23" y="422.1" font-size="14.4" fill="#131722" textLength="73.3" lengthAdjust="spacingAndGlyphs">金／米ドル</text>
<text x="102.7" y="422.1" font-size="15.3" fill="#131722" font-weight="bold">·</text>
<text x="113.3" y="422.1" font-size="15.3" fill="#131722" textLength="21.3" lengthAdjust="spacingAndGlyphs">1<tspan font-size="14.4">週</tspan></text>
<text x="138.7" y="422.1" font-size="15.3" fill="#131722" font-weight="bold">·</text>
<text x="150" y="422.1" font-size="15.3" fill="#131722" textLength="46.3" lengthAdjust="spacingAndGlyphs">OANDA</text>
<text x="205.8" y="422.1" font-size="14.4" fill="#131722" textLength="29.3" lengthAdjust="spacingAndGlyphs">始値</text>
<text x="235.8" y="422.1" font-size="15.3" fill="#089981" textLength="65.5" lengthAdjust="spacingAndGlyphs">3,891.335</text>
<text x="311.3" y="422.1" font-size="14.4" fill="#131722" textLength="29.3" lengthAdjust="spacingAndGlyphs">高値</text>
<text x="341.3" y="422.1" font-size="15.3" fill="#089981" textLength="65.5" lengthAdjust="spacingAndGlyphs">4,059.350</text>
<text x="416.3" y="422.1" font-size="14.4" fill="#131722" textLength="29.2" lengthAdjust="spacingAndGlyphs">安値</text>
<text x="446.3" y="422.1" font-size="15.3" fill="#089981" textLength="65.3" lengthAdjust="spacingAndGlyphs">3,884.115</text>
<text x="521.2" y="422.1" font-size="14.4" fill="#131722" textLength="29.4" lengthAdjust="spacingAndGlyphs">終値</text>
<text x="551.5" y="422.1" font-size="15.3" fill="#089981" textLength="65.3" lengthAdjust="spacingAndGlyphs">4,016.680</text>
<text x="626.6" y="422.1" font-size="15.3" fill="#089981" textLength="121.2" lengthAdjust="spacingAndGlyphs">+130.225 (+3.35%)</text>
<g clip-path="url(#c3a)">
<text x="828.5" y="499.9" font-size="15.3" fill="#131722" textLength="66" lengthAdjust="spacingAndGlyphs">3,600.000</text>
<text x="828.5" y="543.9" font-size="15.3" fill="#131722" textLength="66" lengthAdjust="spacingAndGlyphs">3,200.000</text>
<text x="828.5" y="588.4" font-size="15.3" fill="#131722" textLength="66" lengthAdjust="spacingAndGlyphs">2,800.000</text>
<text x="828.5" y="632.9" font-size="15.3" fill="#131722" textLength="66" lengthAdjust="spacingAndGlyphs">2,400.000</text>
<text x="828.5" y="676.9" font-size="15.3" fill="#131722" textLength="66" lengthAdjust="spacingAndGlyphs">2,000.000</text>
<text x="828.5" y="721.4" font-size="15.3" fill="#131722" textLength="66" lengthAdjust="spacingAndGlyphs">1,600.000</text>
</g>
<path d="M818 439.2h80.7a2 2 0 0 1 2 2v16.5a2 2 0 0 1-2 2h-80.7z" fill="#089981"/>
<text x="829.2" y="454.9" font-size="15.3" fill="#fff" font-weight="bold" textLength="65.8" lengthAdjust="spacingAndGlyphs">4,016.680</text>
<rect x="822.7" y="402.7" width="78.79999999999995" height="30.80000000000001" rx="5" fill="#fff" stroke="#eeeeef" stroke-width="1.2"/>
<text x="833.4" y="423.5" font-size="15.3" fill="#131722" textLength="25.2" lengthAdjust="spacingAndGlyphs">USD</text>
<text x="61.5" y="742" font-size="15.3" fill="#131722" font-weight="bold" text-anchor="middle" textLength="34.3" lengthAdjust="spacingAndGlyphs">2024</text>
<text x="252.5" y="742" font-size="15.3" fill="#131722" text-anchor="middle" textLength="20.3" lengthAdjust="spacingAndGlyphs">7<tspan font-size="14.4">月</tspan></text>
<text x="452.5" y="742" font-size="15.3" fill="#131722" font-weight="bold" text-anchor="middle" textLength="34.3" lengthAdjust="spacingAndGlyphs">2025</text>
<text x="643.5" y="742" font-size="15.3" fill="#131722" text-anchor="middle" textLength="20.3" lengthAdjust="spacingAndGlyphs">7<tspan font-size="14.4">月</tspan></text>
<circle cx="747.8" cy="702.4" r="12.2" fill="#fff" stroke="#f23645" stroke-width="2"/>
<g clip-path="url(#cf2)"><rect x="737.8" y="692.4" width="20" height="20" fill="#f7f8fc"/>
<rect x="737.8" y="693" width="20" height="2.7000000000000455" fill="#ef5350"/>
<rect x="737.8" y="700.9" width="20" height="3.800000000000068" fill="#ef5350"/>
<rect x="737.8" y="708.5" width="20" height="3.7000000000000455" fill="#ef5350"/>
</g>
<circle cx="739.2" cy="702.4" r="12.2" fill="#fff" stroke="#f23645" stroke-width="2"/>
<g clip-path="url(#cf)"><rect x="729.2" y="692.4" width="20" height="20" fill="#f7f8fc"/>
<rect x="729.2" y="693" width="20" height="2.7000000000000455" fill="#ef5350"/>
<rect x="729.2" y="700.9" width="20" height="3.800000000000068" fill="#ef5350"/>
<rect x="729.2" y="708.5" width="20" height="3.7000000000000455" fill="#ef5350"/>
<rect x="729.2" y="692.4" width="12.4" height="12.3" fill="#1e88e5"/>
<rect x="732.1" y="695.1999999999999" width="1.2" height="1.2" fill="#e3f0fb"/>
<rect x="735.3000000000001" y="695.1999999999999" width="1.2" height="1.2" fill="#e3f0fb"/>
<rect x="738.4" y="695.1999999999999" width="1.2" height="1.2" fill="#e3f0fb"/>
<rect x="732.1" y="698.4" width="1.2" height="1.2" fill="#e3f0fb"/>
<rect x="735.3000000000001" y="698.4" width="1.2" height="1.2" fill="#e3f0fb"/>
<rect x="738.4" y="698.4" width="1.2" height="1.2" fill="#e3f0fb"/>
<rect x="732.1" y="701.5" width="1.2" height="1.2" fill="#e3f0fb"/>
<rect x="735.3000000000001" y="701.5" width="1.2" height="1.2" fill="#e3f0fb"/>
<rect x="738.4" y="701.5" width="1.2" height="1.2" fill="#e3f0fb"/>
</g>
<rect x="913" y="397" width="892" height="357" fill="#fff" stroke="#f2f2f3" stroke-width="2"/>
<path d="M990 420.5H1735M990 468.5H1735M990 515.5H1735M990 563.5H1735M990 610.5H1735M990 658.5H1735M990 705.5H1735" stroke="#eff0f1" stroke-width="1" fill="none"/>
<path d="M1034.5 398V719M1212.5 398V719M1397.5 398V719M1574.5 398V719" stroke="#eff0f1" stroke-width="1" fill="none"/>
<g clip-path="url(#c4)">
<path d="M993.5 541.0V561.0M1000.5 551.0V574.0M1007.5 541.0V562.0M1014.5 541.0V587.0M1021.5 571.0V594.0M1028.5 587.0V609.0M1034.5 562.0V597.0M1041.5 569.0V582.0M1048.5 551.0V577.0M1055.5 549.0V569.0M1062.5 545.0V566.0M1069.5 534.0V547.0M1075.5 527.0V545.0M1082.5 538.0V556.0M1089.5 540.0V553.0M1096.5 546.0V576.0M1103.5 555.0V571.0M1110.5 536.0V557.0M1116.5 532.0V545.0M1123.5 525.0V547.0M1130.5 506.0V548.0M1137.5 498.0V513.0M1144.5 500.0V519.0M1151.5 499.0V536.0M1157.5 513.0V529.0M1164.5 518.0V544.0M1171.5 524.0V538.0M1178.5 523.0V539.0M1185.5 528.0V546.0M1192.5 511.0V541.0M1198.5 509.0V524.0M1205.5 505.0V517.0M1212.5 507.0V530.0M1219.5 523.0V545.0M1226.5 536.0V553.0M1233.5 535.0V544.0M1239.5 530.0V562.0M1246.5 554.0V580.0M1253.5 558.0V578.0M1260.5 574.0V609.0M1267.5 587.0V611.0M1274.5 585.0V610.0M1280.5 586.0V604.0M1287.5 593.0V617.0M1294.5 598.0V618.0M1301.5 570.0V614.0M1308.5 561.0V578.0M1315.5 548.0V567.0M1321.5 535.0V557.0M1328.5 534.0V552.0M1335.5 518.0V557.0M1342.5 488.0V529.0M1349.5 469.0V506.0M1356.5 480.0V515.0M1363.5 494.0V519.0M1369.5 485.0V509.0M1376.5 460.0V495.0M1383.5 464.0V476.0M1390.5 441.0V475.0M1397.5 428.0V475.0M1404.5 429.0V445.0M1410.5 443.0V485.0M1417.5 460.0V490.0M1424.5 435.0V483.0M1431.5 460.0V494.0M1438.5 482.0V502.0M1445.5 477.0V505.0M1451.5 478.0V556.0M1458.5 544.0V560.0M1465.5 541.0V561.0M1472.5 533.0V548.0M1479.5 538.0V567.0M1486.5 554.0V639.0M1492.5 616.0V636.0M1499.5 622.0V660.0M1506.5 614.0V641.0M1513.5 605.0V636.0M1520.5 584.0V616.0M1527.5 604.0V639.0M1533.5 611.0V645.0M1540.5 632.0V652.0M1547.5 632.0V666.0M1554.5 637.0V664.0M1561.5 632.0V677.0M1568.5 669.0V689.0M1574.5 659.0V679.0M1581.5 641.0V664.0M1588.5 649.0V675.0M1595.5 616.0V668.0M1602.5 638.0V659.0M1609.5 646.0V665.0M1615.5 643.0V667.0M1622.5 645.0V665.0M1629.5 646.0V669.0M1636.5 657.0V673.0M1643.5 662.0V692.0M1650.5 647.0V674.0M1656.5 655.0V669.0M1663.5 629.0V660.0" stroke="#737375" stroke-width="1" fill="none"/>
<path d="M1005.5 545.5h4V561.5h-4ZM1032.5 575.5h4V594.5h-4ZM1046.5 559.5h4V575.5h-4ZM1053.5 555.5h4V560.5h-4ZM1060.5 546.5h4V555.5h-4ZM1067.5 544.5h4V546.5h-4ZM1073.5 540.5h4V544.5h-4ZM1101.5 556.5h4V569.5h-4ZM1108.5 537.5h4V556.5h-4ZM1114.5 535.5h4V537.5h-4ZM1128.5 508.5h4V540.5h-4ZM1135.5 506.5h4V508.5h-4ZM1155.5 521.5h4V525.5h-4ZM1169.5 531.5h4V536.5h-4ZM1183.5 528.5h4V534.5h-4ZM1190.5 517.5h4V528.5h-4ZM1196.5 511.5h4V517.5h-4ZM1203.5 511.5h4V512.5h-4ZM1224.5 539.5h4V544.5h-4ZM1265.5 588.5h4V608.5h-4ZM1299.5 574.5h4V613.5h-4ZM1306.5 566.5h4V574.5h-4ZM1313.5 556.5h4V566.5h-4ZM1319.5 540.5h4V556.5h-4ZM1326.5 540.5h4V541.5h-4ZM1333.5 528.5h4V540.5h-4ZM1340.5 495.5h4V528.5h-4ZM1347.5 480.5h4V495.5h-4ZM1361.5 508.5h4V512.5h-4ZM1367.5 490.5h4V508.5h-4ZM1374.5 474.5h4V490.5h-4ZM1381.5 470.5h4V474.5h-4ZM1388.5 453.5h4V470.5h-4ZM1395.5 439.5h4V453.5h-4ZM1415.5 461.5h4V480.5h-4ZM1443.5 478.5h4V496.5h-4ZM1463.5 543.5h4V550.5h-4ZM1497.5 629.5h4V638.5h-4ZM1504.5 620.5h4V628.5h-4ZM1511.5 613.5h4V621.5h-4ZM1518.5 602.5h4V608.5h-4ZM1531.5 631.5h4V638.5h-4ZM1552.5 644.5h4V654.5h-4ZM1572.5 661.5h4V678.5h-4ZM1579.5 650.5h4V659.5h-4ZM1593.5 646.5h4V666.5h-4ZM1620.5 661.5h4V664.5h-4ZM1641.5 665.5h4V666.5h-4ZM1648.5 655.5h4V665.5h-4ZM1661.5 642.5h4V659.5h-4Z" fill="#71ad8b" stroke="#0f4d2c" stroke-width="1"/>
<path d="M991.5 549.5h4V557.5h-4ZM998.5 556.5h4V558.5h-4ZM1012.5 546.5h4V573.5h-4ZM1019.5 572.5h4V589.5h-4ZM1026.5 590.5h4V596.5h-4ZM1039.5 575.5h4V576.5h-4ZM1080.5 540.5h4V546.5h-4ZM1087.5 546.5h4V548.5h-4ZM1094.5 548.5h4V569.5h-4ZM1121.5 536.5h4V540.5h-4ZM1142.5 506.5h4V507.5h-4ZM1149.5 506.5h4V525.5h-4ZM1162.5 521.5h4V536.5h-4ZM1176.5 531.5h4V534.5h-4ZM1210.5 511.5h4V529.5h-4ZM1217.5 529.5h4V544.5h-4ZM1231.5 539.5h4V540.5h-4ZM1237.5 539.5h4V560.5h-4ZM1244.5 560.5h4V561.5h-4ZM1251.5 561.5h4V576.5h-4ZM1258.5 576.5h4V608.5h-4ZM1272.5 588.5h4V598.5h-4ZM1278.5 598.5h4V600.5h-4ZM1285.5 601.5h4V607.5h-4ZM1292.5 607.5h4V613.5h-4ZM1354.5 480.5h4V512.5h-4ZM1402.5 439.5h4V444.5h-4ZM1408.5 444.5h4V480.5h-4ZM1422.5 461.5h4V468.5h-4ZM1429.5 468.5h4V493.5h-4ZM1436.5 493.5h4V496.5h-4ZM1449.5 478.5h4V547.5h-4ZM1456.5 547.5h4V550.5h-4ZM1470.5 543.5h4V545.5h-4ZM1477.5 545.5h4V566.5h-4ZM1484.5 563.5h4V625.5h-4ZM1490.5 620.5h4V632.5h-4ZM1525.5 604.5h4V638.5h-4ZM1538.5 632.5h4V636.5h-4ZM1545.5 636.5h4V656.5h-4ZM1559.5 638.5h4V672.5h-4ZM1566.5 674.5h4V678.5h-4ZM1586.5 652.5h4V665.5h-4ZM1600.5 646.5h4V653.5h-4ZM1607.5 654.5h4V661.5h-4ZM1613.5 662.5h4V663.5h-4ZM1627.5 662.5h4V663.5h-4ZM1634.5 662.5h4V666.5h-4ZM1654.5 655.5h4V664.5h-4Z" fill="#e65c47" stroke="#5a0d08" stroke-width="1"/>
<polyline points="987.5,505 993.5,497.5 1000.5,563.3 1007.5,556.3 1014.5,630.8 1021.5,633.3 1028.5,642 1034.5,597.5 1041.5,624.2 1048.5,580 1055.5,576.3 1062.5,604.7 1069.5,567 1075.5,543.3 1082.5,550 1089.5,564 1096.5,591.7 1103.5,536.2 1110.5,562.5 1116.5,561.2 1123.5,518.3 1130.5,483.7 1137.5,462.5 1144.5,451.7 1151.5,488.7 1157.5,491.7 1164.5,510 1171.5,500 1178.5,490.8 1185.5,506.7 1192.5,557.5 1198.5,549.2 1205.5,515 1212.5,540.8 1219.5,565.8 1226.5,553 1233.5,563.5 1239.5,659.5 1246.5,623 1253.5,637.5 1260.5,657.8 1267.5,631.7 1274.5,678.3 1280.5,692 1287.5,671.7 1294.5,668.7 1301.5,622 1308.5,585.5 1315.5,590 1321.5,555 1328.5,518.3 1335.5,535 1342.5,505.8 1349.5,515 1356.5,567.5 1363.5,573.3 1369.5,515 1376.5,481.7 1383.5,460.8 1390.5,468 1397.5,428.7 1404.5,462 1410.5,464.2 1417.5,480 1424.5,492.5 1431.5,495.8 1438.5,507.5 1445.5,562 1451.5,538.3 1458.5,534.2 1465.5,550.3 1472.5,550.8 1479.5,610.8 1486.5,491.7 1492.5,529.7 1499.5,549.7 1506.5,537 1513.5,517.5 1520.5,503.3 1527.5,489.2 1533.5,515.8 1540.5,489.5 1547.5,512.5 1554.5,520.8 1561.5,544.7 1568.5,526.7 1574.5,511.3 1581.5,510.3 1588.5,518.3 1595.5,558.7 1602.5,541.7 1609.5,534.2 1615.5,549.5 1622.5,555 1629.5,592 1636.5,594.2 1643.5,578 1650.5,568.7 1656.5,582.5 1663.5,596.3" fill="none" stroke="url(#lg)" stroke-width="2.6" stroke-linejoin="miter" stroke-miterlimit="3" stroke-linecap="round"/>
</g>
<path d="M990 596.5H1735" stroke="#4a6ef0" stroke-width="1" stroke-dasharray="1 2" fill="none"/>
<text x="1000.3" y="421.8" font-size="15.3" fill="#131722" textLength="134.7" lengthAdjust="spacingAndGlyphs"><tspan font-size="14.4">米国債</tspan>10<tspan font-size="14.4">年物利回り</tspan></text>
<text x="1140.1" y="421.8" font-size="15.3" fill="#131722" font-weight="bold">·</text>
<text x="1150.8" y="421.8" font-size="15.3" fill="#131722" textLength="22.4" lengthAdjust="spacingAndGlyphs">1<tspan font-size="14.4">週</tspan></text>
<text x="1178.2" y="421.8" font-size="15.3" fill="#131722" font-weight="bold">·</text>
<text x="1188.7" y="421.8" font-size="15.3" fill="#131722" textLength="24.8" lengthAdjust="spacingAndGlyphs">TVC</text>
<text x="1223.5" y="421.8" font-size="15.3" fill="#4a72ec" textLength="45.5" lengthAdjust="spacingAndGlyphs">4.059%</text>
<text x="1279.4" y="421.8" font-size="15.3" fill="#4a72ec" textLength="104.2" lengthAdjust="spacingAndGlyphs">−0.062 (−1.50%)</text>
<text x="1745.9" y="473.7" font-size="15.3" fill="#131722" textLength="46.1" lengthAdjust="spacingAndGlyphs">4.600%</text>
<text x="1745.9" y="521.1999999999999" font-size="15.3" fill="#131722" textLength="46.1" lengthAdjust="spacingAndGlyphs">4.400%</text>
<text x="1745.9" y="568.6999999999999" font-size="15.3" fill="#131722" textLength="46.1" lengthAdjust="spacingAndGlyphs">4.200%</text>
<text x="1745.9" y="616.1999999999999" font-size="15.3" fill="#131722" textLength="46.1" lengthAdjust="spacingAndGlyphs">4.000%</text>
<text x="1745.9" y="663.6999999999999" font-size="15.3" fill="#131722" textLength="46.1" lengthAdjust="spacingAndGlyphs">3.800%</text>
<text x="1745.9" y="711.1999999999999" font-size="15.3" fill="#131722" textLength="46.1" lengthAdjust="spacingAndGlyphs">3.600%</text>
<text x="926.8" y="475.7" font-size="15.3" fill="#131722" textLength="52.2" lengthAdjust="spacingAndGlyphs">108.000</text>
<text x="926.8" y="513.2" font-size="15.3" fill="#131722" textLength="52.2" lengthAdjust="spacingAndGlyphs">106.000</text>
<text x="926.8" y="550.6999999999999" font-size="15.3" fill="#131722" textLength="52.2" lengthAdjust="spacingAndGlyphs">104.000</text>
<text x="926.8" y="588.3" font-size="15.3" fill="#131722" textLength="52.2" lengthAdjust="spacingAndGlyphs">102.000</text>
<text x="926.8" y="625.8" font-size="15.3" fill="#131722" textLength="52.2" lengthAdjust="spacingAndGlyphs">100.000</text>
<text x="934.6" y="663.4" font-size="15.3" fill="#131722" textLength="44.4" lengthAdjust="spacingAndGlyphs">98.000</text>
<text x="934.6" y="701.0" font-size="15.3" fill="#131722" textLength="44.4" lengthAdjust="spacingAndGlyphs">96.000</text>
<path d="M1735.8 585.8h61a2 2 0 0 1 2 2v17a2 2 0 0 1-2 2h-61z" fill="#4a6ef0"/>
<text x="1746.5" y="601.7" font-size="15.3" fill="#fff" font-weight="bold" textLength="46" lengthAdjust="spacingAndGlyphs">4.059%</text>
<path d="M990 632h-59.8a2 2 0 0 0-2 2v16.5a2 2 0 0 0 2 2h59.8z" fill="#6faa89"/>
<text x="934.6" y="647.7" font-size="15.3" fill="#fff" textLength="44.4" lengthAdjust="spacingAndGlyphs">98.854</text>
<rect x="918.5" y="402.3" width="67.70000000000005" height="31.19999999999999" rx="5" fill="#fff" stroke="#eeeeef" stroke-width="1.2"/>
<text x="929.5" y="423.29999999999995" font-size="15.3" fill="#131722" textLength="25.9" lengthAdjust="spacingAndGlyphs">USD</text>
<rect x="1740.2" y="402.2" width="59.59999999999991" height="31.30000000000001" rx="5" fill="#fff" stroke="#eeeeef" stroke-width="1.2"/>
<text x="1751" y="423.25" font-size="15.3" fill="#131722" textLength="9.3" lengthAdjust="spacingAndGlyphs">%</text>
<text x="1034.5" y="742" font-size="15.3" fill="#131722" font-weight="bold" text-anchor="middle" textLength="34.3" lengthAdjust="spacingAndGlyphs">2024</text>
<text x="1211" y="742" font-size="15.3" fill="#131722" text-anchor="middle" textLength="20.3" lengthAdjust="spacingAndGlyphs">7<tspan font-size="14.4">月</tspan></text>
<text x="1397.5" y="742" font-size="15.3" fill="#131722" font-weight="bold" text-anchor="middle" textLength="34.3" lengthAdjust="spacingAndGlyphs">2025</text>
<text x="1574" y="742" font-size="15.3" fill="#131722" text-anchor="middle" textLength="20.3" lengthAdjust="spacingAndGlyphs">7<tspan font-size="14.4">月</tspan></text>
<circle cx="952" cy="737" r="11.6" fill="#f4f4f5"/>
<text x="952" y="741.3" font-size="12" fill="#50535e" text-anchor="middle">Z</text>
<circle cx="1770.5" cy="737" r="11.6" fill="#f4f4f5"/>
<text x="1770.5" y="741.3" font-size="12" fill="#50535e" text-anchor="middle">A</text>
<g fill="#131316"><path d="M15.3 781.5h15.2V800h-7.7v-10.6h-7.5z"/><circle cx="36.6" cy="785" r="3.4"/><path d="M43.2 781.5h9.6L46.7 800h-9.6z"/></g>
<text x="61.5" y="800" font-size="25.5" fill="#131316" font-weight="bold" textLength="151.5" lengthAdjust="spacingAndGlyphs">TradingView</text>
</svg></body></html>
